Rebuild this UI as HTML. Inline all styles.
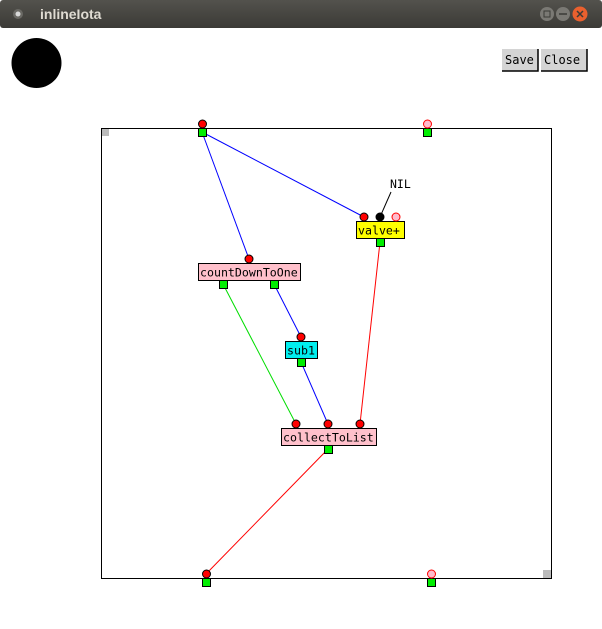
<!DOCTYPE html>
<html><head><meta charset="utf-8"><style>
html,body{margin:0;padding:0;width:602px;height:629px;overflow:hidden;background:#fff}
</style></head><body>
<svg width="602" height="629" xmlns="http://www.w3.org/2000/svg" font-family="'DejaVu Sans Mono','Liberation Mono',monospace">
<defs><linearGradient id="tb" x1="0" y1="0" x2="0" y2="1"><stop offset="0" stop-color="#53524d"/><stop offset="1" stop-color="#3b3a36"/></linearGradient></defs>
<rect x="0" y="0" width="602" height="28" fill="url(#tb)" rx="3"/>
<circle cx="18" cy="14" r="5" fill="#6a6964"/><circle cx="18" cy="14" r="2.5" fill="#d8d8d8"/>
<text x="40" y="19" font-family="'Liberation Sans',sans-serif" font-weight="bold" font-size="14" fill="#dfdbd2">inlineIota</text>
<circle cx="547" cy="14" r="7" fill="#7a7974"/><circle cx="563" cy="14" r="7" fill="#7a7974"/><circle cx="580" cy="14" r="7.5" fill="#e9602e"/>
<rect x="544" y="11" width="6" height="6" fill="none" stroke="#3b3a36" stroke-width="1"/>
<line x1="559" y1="14" x2="567" y2="14" stroke="#3b3a36" stroke-width="1.5"/>
<path d="M577 11 L583 17 M583 11 L577 17" stroke="#3b3a36" stroke-width="1.5"/>
<ellipse cx="36.5" cy="63" rx="25" ry="25" fill="#000"/>
<rect x="502" y="49" width="36" height="22" fill="#d4d4d4"/>
<path d="M502 71 H538 V49" fill="none" stroke="#000" stroke-width="1.5"/>
<text x="505" y="64" font-size="12">Save</text>
<rect x="541" y="49" width="46" height="22" fill="#d4d4d4"/>
<path d="M541 71 H587 V49" fill="none" stroke="#000" stroke-width="1.5"/>
<text x="544" y="64" font-size="12">Close</text>
<rect x="101.5" y="128.5" width="450" height="450" fill="none" stroke="#000" stroke-width="1"/>
<rect x="102" y="129" width="7" height="7" fill="#bbb"/>
<rect x="543" y="570" width="8" height="8" fill="#bbb"/>
<g stroke-width="1" fill="none">
<line x1="202" y1="132" x2="364" y2="217" stroke="#00f"/>
<line x1="202" y1="132" x2="249" y2="259" stroke="#00f"/>
<line x1="274" y1="284" x2="301" y2="337" stroke="#00f"/>
<line x1="301" y1="362" x2="328" y2="424" stroke="#00f"/>
<line x1="223" y1="284" x2="296" y2="424" stroke="#0d0"/>
<line x1="380" y1="242" x2="360" y2="424" stroke="#f00"/>
<line x1="328" y1="449" x2="206" y2="574" stroke="#f00"/>
<line x1="380" y1="217" x2="391" y2="192" stroke="#000"/>
</g>
<text x="390" y="188" font-size="11.5">NIL</text>
<g stroke="#000" stroke-width="1">
<rect x="198.5" y="128.5" width="8" height="8" fill="#0e0"/>
<rect x="423.5" y="128.5" width="8" height="8" fill="#0e0"/>
<rect x="202.5" y="578.5" width="8" height="8" fill="#0e0"/>
<rect x="427.5" y="578.5" width="8" height="8" fill="#0e0"/>
<circle cx="202.5" cy="124" r="4" fill="#f00"/>
<circle cx="206.5" cy="574" r="4" fill="#f00"/>
</g>
<circle cx="427.5" cy="124" r="4" fill="#fbc" stroke="#f00"/>
<circle cx="431.5" cy="574" r="4" fill="#fbc" stroke="#f00"/>
<g stroke="#000" stroke-width="1">
<rect x="356.5" y="221.5" width="48" height="17" fill="#ff0"/>
<circle cx="364" cy="217" r="4" fill="#f00"/>
<circle cx="380" cy="217" r="4" fill="#000"/>
<rect x="376.5" y="238.5" width="8" height="8" fill="#0e0"/>
<rect x="198.5" y="263.5" width="102" height="17" fill="#ffc0cb"/>
<circle cx="249" cy="259" r="4" fill="#f00"/>
<rect x="219.5" y="280.5" width="8" height="8" fill="#0e0"/>
<rect x="270.5" y="280.5" width="8" height="8" fill="#0e0"/>
<rect x="285.5" y="341.5" width="32" height="17" fill="#0ee"/>
<circle cx="301" cy="337" r="4" fill="#f00"/>
<rect x="297.5" y="358.5" width="8" height="8" fill="#0e0"/>
<rect x="281.5" y="428.5" width="95" height="17" fill="#ffc0cb"/>
<circle cx="296" cy="424" r="4" fill="#f00"/>
<circle cx="328" cy="424" r="4" fill="#f00"/>
<circle cx="360" cy="424" r="4" fill="#f00"/>
<rect x="324.5" y="445.5" width="8" height="8" fill="#0e0"/>
</g>
<circle cx="396" cy="217" r="4" fill="#fbc" stroke="#f00"/>
<g font-size="11.6" fill="#000">
<text x="358" y="234.5">valve+</text>
<text x="200" y="276.5">countDownToOne</text>
<text x="287" y="354.5">sub1</text>
<text x="283" y="441.5">collectToList</text>
</g>
</svg>
</body></html>
